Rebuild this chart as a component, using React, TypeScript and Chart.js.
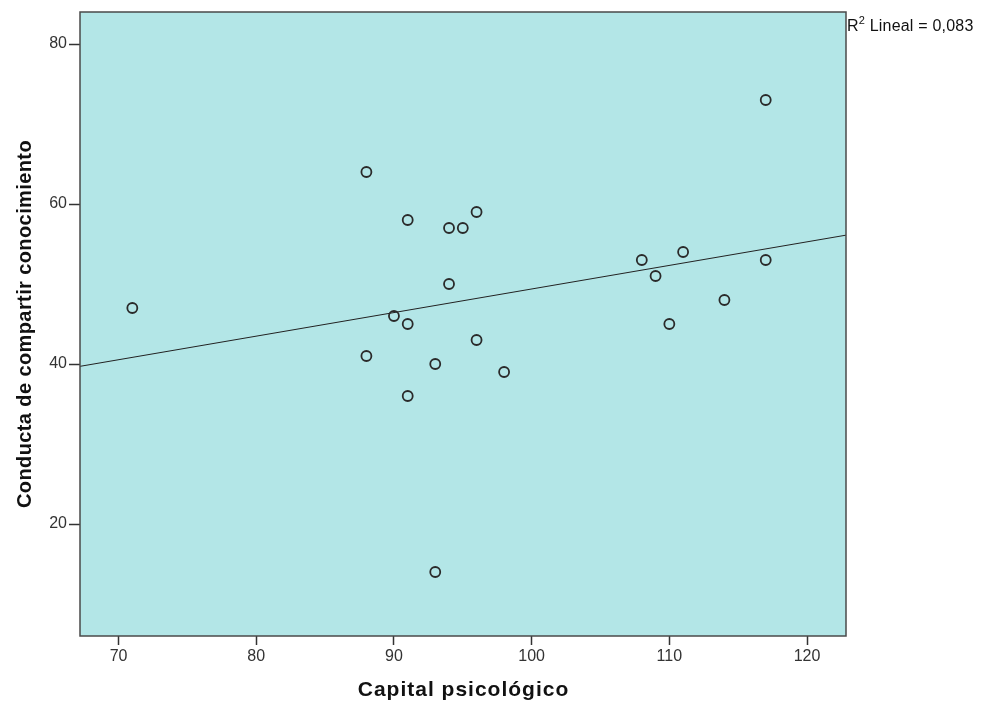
import React, { useEffect, useRef } from "react";
import { Chart, registerables } from "chart.js";

Chart.register(...registerables);

const capitalPsicologico = [71, 88, 88, 90, 91, 91, 91, 93, 93, 94, 94, 95, 96, 96, 98, 108, 109, 110, 111, 114, 117, 117];
const conductaCompartir = [47, 64, 41, 46, 58, 45, 36, 40, 14, 57, 50, 57, 59, 43, 39, 53, 51, 45, 54, 48, 73, 53];
const xTicks = [70, 80, 90, 100, 110, 120];
const yTicks = [20, 40, 60, 80];
const xRange = [67.2, 122.83];
const yRange = [6, 84];
const xTitle = "Capital psicológico";
const yTitle = "Conducta de compartir conocimiento";
const r2Label = "0,083";

const FONT = "'Liberation Sans', Arial, sans-serif";

function fitLine(xs: number[], ys: number[]) {
  const n = xs.length;
  const mx = xs.reduce((a, b) => a + b, 0) / n;
  const my = ys.reduce((a, b) => a + b, 0) / n;
  let sxy = 0, sxx = 0;
  for (let i = 0; i < n; i++) {
    sxy += (xs[i] - mx) * (ys[i] - my);
    sxx += (xs[i] - mx) * (xs[i] - mx);
  }
  const b = sxy / sxx;
  const a = my - b * mx;
  return (x: number) => a + b * x;
}

export default function App() {
  const ref = useRef<HTMLCanvasElement | null>(null);
  useEffect(() => {
    document.body.style.margin = "0";
    const f = fitLine(capitalPsicologico, conductaCompartir);
    const points = capitalPsicologico.map((x, i) => ({ x, y: conductaCompartir[i] }));
    const line = [
      { x: xRange[0], y: f(xRange[0]) },
      { x: xRange[1], y: f(xRange[1]) },
    ];
    const framePlugin = {
      id: "frame",
      beforeDatasetsDraw(chart: any) {
        const { ctx, chartArea: c } = chart;
        ctx.save();
        ctx.fillStyle = "#b3e6e7";
        ctx.fillRect(c.left, c.top, c.right - c.left, c.bottom - c.top);
        ctx.restore();
      },
      afterDraw(chart: any) {
        const { ctx, chartArea: c } = chart;
        ctx.save();
        ctx.strokeStyle = "#4a4a4a";
        ctx.lineWidth = 1.5;
        ctx.strokeRect(c.left, c.top, c.right - c.left, c.bottom - c.top);

        // R² label
        ctx.fillStyle = "#111";
        ctx.textBaseline = "alphabetic";
        ctx.textAlign = "left";
        (ctx as any).letterSpacing = "0.2px";
        ctx.font = `16px ${FONT}`;
        const x0 = c.right + 1;
        const y0 = c.top + 19;
        ctx.fillText("R", x0, y0);
        const w = ctx.measureText("R").width;
        ctx.font = `11px ${FONT}`;
        ctx.fillText("2", x0 + w, y0 - 7);
        const w2 = ctx.measureText("2").width;
        ctx.font = `16px ${FONT}`;
        ctx.fillText(" Lineal = " + r2Label, x0 + w + w2, y0);

        // X title
        (ctx as any).letterSpacing = "1px";
        ctx.font = `bold 21px ${FONT}`;
        ctx.textAlign = "center";
        ctx.fillText(xTitle, (c.left + c.right) / 2 + 0.5, 696);

        // Y title
        (ctx as any).letterSpacing = "0.4px";
        ctx.font = `bold 20px ${FONT}`;
        ctx.translate(31, (c.top + c.bottom) / 2);
        ctx.rotate(-Math.PI / 2);
        ctx.fillText(yTitle, 0, 0);
        ctx.restore();
      },
    };
    const chart = new Chart(ref.current!, {
      type: "scatter",
      data: {
        datasets: [
          {
            label: "Observado",
            data: points,
            pointStyle: "circle",
            pointRadius: 5,
            pointHoverRadius: 5,
            pointBorderWidth: 1.8,
            borderColor: "#2a2a2a",
            backgroundColor: "rgba(0,0,0,0)",
          },
          {
            label: "Lineal",
            type: "line",
            data: line,
            borderColor: "#222",
            borderWidth: 1,
            pointRadius: 0,
            fill: false,
          } as any,
        ],
      },
      plugins: [framePlugin],
      options: {
        animation: false,
        responsive: false,
        devicePixelRatio: 1,
        layout: { padding: { top: 12, right: 138, left: 0, bottom: 0 } },
        plugins: { legend: { display: false }, tooltip: { enabled: false } },
        scales: {
          x: {
            type: "linear",
            min: xRange[0],
            max: xRange[1],
            afterBuildTicks: (s: any) => { s.ticks = xTicks.map((v) => ({ value: v })); },
            afterFit: (s: any) => { s.height = 68; },
            border: { display: false },
            grid: { drawOnChartArea: false, drawTicks: true, tickLength: 9, tickColor: "#333", tickWidth: 1.5 },
            ticks: { color: "#333", padding: 2, font: { size: 16, family: FONT }, maxRotation: 0 },
          },
          y: {
            type: "linear",
            min: yRange[0],
            max: yRange[1],
            afterBuildTicks: (s: any) => { s.ticks = yTicks.map((v) => ({ value: v })); },
            afterFit: (s: any) => { s.width = 80; },
            border: { display: false },
            grid: { drawOnChartArea: false, drawTicks: true, tickLength: 11, tickColor: "#333", tickWidth: 1.5 },
            ticks: { color: "#333", padding: 2, font: { size: 16, family: FONT } },
          },
        },
      } as any,
    });
    return () => chart.destroy();
  }, []);
  return (
    <div style={{ position: "absolute", left: 0, top: 0, width: 984, height: 704, background: "#fff" }}>
      <canvas ref={ref} width={984} height={704} style={{ width: 984, height: 704 }} />
    </div>
  );
}
